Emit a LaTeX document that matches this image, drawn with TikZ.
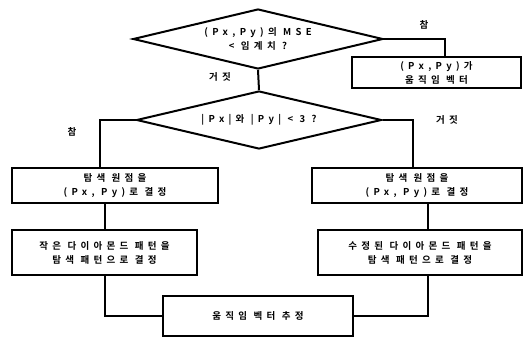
\documentclass[tikz,border=0pt]{standalone}
\usepackage{fontspec}
\newfontfamily\kofont[BoldFont=* Bold,LetterSpace=45]{Noto Sans CJK KR}
\usetikzlibrary{shapes.geometric}
\begin{document}
\begin{tikzpicture}[x=1pt,y=-1pt,line width=2pt,font=\kofont\bfseries\fontsize{9.5}{14}\selectfont,
	dec/.style={diamond,draw,inner sep=0pt},
	stepbox/.style={rectangle,draw,inner sep=0pt,align=center}]
				\useasboundingbox (0,0) rectangle (524,337);
				\node[dec,minimum width=250pt,minimum height=60pt] (d1) at (258,39) {};
				\node[align=center] (d1t) at (d1) {(Px,Py)의 MSE\\< 임계치 ?};
				\node[stepbox,minimum width=169pt,minimum height=31pt] (mv) at (436.5,72.5) {(Px,Py)가\\움직임 벡터};
				\node[dec,minimum width=245pt,minimum height=58pt] (d2) at (259,120) {};
				\node (d2t) at (d2) {|Px|와 |Py| < 3 ?};
				\node[stepbox,minimum width=206pt,minimum height=35pt] (o1) at (115,185.5) {탐색 원점을\\(Px, Py)로 결정};
				\node[stepbox,minimum width=210pt,minimum height=35pt] (o2) at (417,185.5) {탐색 원점을\\(Px, Py)로 결정};
				\node[stepbox,minimum width=185pt,minimum height=45pt] (p1) at (104.5,252.5) {작은 다이아몬드 패턴을\\탐색 패턴으로 결정};
				\node[stepbox,minimum width=204pt,minimum height=45pt] (p2) at (420,252.5) {수정된 다이아몬드 패턴을\\탐색 패턴으로 결정};
				\node[stepbox,minimum width=190pt,minimum height=40pt] (est) at (258,316) {움직임 벡터 추정};
				% 연결선
				\draw (d1.east) -| ([xshift=8pt]mv.north);
				\draw (d1.south) -- (d2.north);
				\draw (d2.west) -| ([xshift=-15pt]o1.north);
				\draw (d2.east) -| ([xshift=-4pt]o2.north);
				\draw (p1.north) -- (p1.north |- o1.south);
				\draw ([xshift=8pt]p2.north) -- ([xshift=8pt]p2.north |- o2.south);
				\draw (p1.south) |- (est.west);
				\draw ([xshift=8pt]p2.south) |- (est.east);
				% 라벨
				\node (t1) at (424,25) {참};
				\node (f1) at (220,77) {거짓};
				\node (t2) at (72,132) {참};
				\node (f2) at (447,120) {거짓};
			\end{tikzpicture}
\end{document}
